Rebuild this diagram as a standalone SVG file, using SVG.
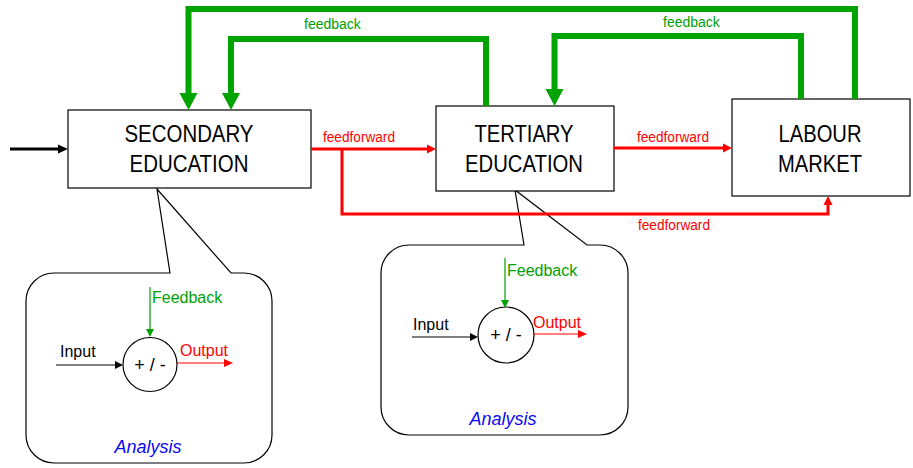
<svg xmlns="http://www.w3.org/2000/svg" width="913" height="468" viewBox="0 0 913 468">
<style>
.box{fill:#fff;stroke:#000;stroke-width:1.2}
.bt{font-family:"Liberation Sans",Arial,sans-serif;font-size:23px;fill:#000;text-anchor:middle}
.fb{fill:none;stroke:#00a400;stroke-width:6}
.fbh{fill:#00a400}
.ff{fill:none;stroke:#f00;stroke-width:3}
.ffh{fill:#f00}
.lab{font-family:"Liberation Sans",Arial,sans-serif;font-size:14px}
.call{fill:#fff;stroke:#000;stroke-width:1.2}
.ct{font-family:"Liberation Sans",Arial,sans-serif;font-size:16px}
.an{font-family:"Liberation Sans",Arial,sans-serif;font-size:18px;font-style:italic;fill:#0a0aee;text-anchor:middle}
.pm{font-family:"Liberation Sans",Arial,sans-serif;font-size:18px;fill:#000;text-anchor:middle}
</style>
<rect width="913" height="468" fill="#fff"/>
<g id="callout-secondary">
<path class="call" d="M170,273 L157,189 L231,273 L244,273 A28,28 0 0 1 272,301 L272,435 A28,28 0 0 1 244,463 L54,463 A28,28 0 0 1 26,435 L26,301 A28,28 0 0 1 54,273 Z"/>
<circle cx="150" cy="364.5" r="27" fill="#fff" stroke="#000" stroke-width="1.2"/>
<text class="pm" x="150" y="371">+ / -</text>
<line x1="150" y1="287" x2="150" y2="329" stroke="#00a000" stroke-width="1.2"/>
<polygon points="146,329 154,329 150,337" fill="#00a000"/>
<text class="ct" x="152" y="303" fill="#00a000">Feedback</text>
<line x1="56" y1="365" x2="116" y2="365" stroke="#000" stroke-width="1.2"/>
<polygon points="115,361 123,365 115,369" fill="#000"/>
<text class="ct" x="60" y="357" fill="#000">Input</text>
<line x1="177" y1="363" x2="225" y2="363" stroke="#f00" stroke-width="1.2"/>
<polygon points="224,359 233,363 224,367" fill="#f00"/>
<text class="ct" x="180" y="356" fill="#f00">Output</text>
<text class="an" x="148" y="453">Analysis</text>
</g>
<g id="callout-tertiary">
<path class="call" d="M524,245 L515,190 L587,245 L600,245 A28,28 0 0 1 628,273 L628,407 A28,28 0 0 1 600,435 L409,435 A28,28 0 0 1 381,407 L381,273 A28,28 0 0 1 409,245 Z"/>
<circle cx="506" cy="335" r="28" fill="#fff" stroke="#000" stroke-width="1.2"/>
<text class="pm" x="506" y="341">+ / -</text>
<line x1="505" y1="258" x2="505" y2="300" stroke="#00a000" stroke-width="1.2"/>
<polygon points="501,300 509,300 505,308" fill="#00a000"/>
<text class="ct" x="507" y="276" fill="#00a000">Feedback</text>
<line x1="412" y1="337" x2="471" y2="337" stroke="#000" stroke-width="1.2"/>
<polygon points="470,333 478,337 470,341" fill="#000"/>
<text class="ct" x="413" y="330" fill="#000">Input</text>
<line x1="534" y1="334" x2="579" y2="334" stroke="#f00" stroke-width="1.2"/>
<polygon points="578,330 587,334 578,338" fill="#f00"/>
<text class="ct" x="533" y="328" fill="#f00">Output</text>
<text class="an" x="503" y="425">Analysis</text>
</g>
<g id="secondary">
<rect class="box" x="68" y="110" width="243" height="78"/>
<text class="bt" x="189" y="142" textLength="129" lengthAdjust="spacingAndGlyphs">SECONDARY</text>
<text class="bt" x="189" y="172" textLength="119" lengthAdjust="spacingAndGlyphs">EDUCATION</text>
</g>
<g id="tertiary">
<rect class="box" x="436" y="106" width="178" height="85"/>
<text class="bt" x="524" y="142" textLength="99" lengthAdjust="spacingAndGlyphs">TERTIARY</text>
<text class="bt" x="524" y="172" textLength="118" lengthAdjust="spacingAndGlyphs">EDUCATION</text>
</g>
<g id="labour">
<rect class="box" x="732" y="99" width="178" height="97"/>
<text class="bt" x="820" y="142" textLength="83" lengthAdjust="spacingAndGlyphs">LABOUR</text>
<text class="bt" x="820" y="172" textLength="84" lengthAdjust="spacingAndGlyphs">MARKET</text>
</g>
<g id="connectors">
<line x1="10" y1="149" x2="60" y2="149" stroke="#000" stroke-width="3"/>
<polygon points="58,144.5 68,149 58,153.5" fill="#000"/>
<path class="fb" d="M855,99 V9 H188.5 V94"/>
<polygon class="fbh" points="179.5,93 197.5,93 188.5,110"/>
<path class="fb" d="M486,106 V39 H231 V94"/>
<polygon class="fbh" points="222,93 240,93 231,110"/>
<path class="fb" d="M801,99 V36 H554.5 V90"/>
<polygon class="fbh" points="545.5,89 563.5,89 554.5,106"/>
<text class="lab" x="304" y="29" fill="#00a000">feedback</text>
<text class="lab" x="663" y="27" fill="#00a000">feedback</text>
<path class="ff" d="M311,149 H428"/>
<polygon class="ffh" points="427,144.5 436,149 427,153.5"/>
<path class="ff" d="M342,149 V214 H828 V204"/>
<polygon class="ffh" points="823.5,205 832.5,205 828,196"/>
<path class="ff" d="M614,148 H724"/>
<polygon class="ffh" points="723,143.5 732,148 723,152.5"/>
<text class="lab" x="323" y="142" fill="#f00" textLength="72" lengthAdjust="spacingAndGlyphs">feedforward</text>
<text class="lab" x="637" y="142" fill="#f00" textLength="72" lengthAdjust="spacingAndGlyphs">feedforward</text>
<text class="lab" x="638" y="230" fill="#f00" textLength="72" lengthAdjust="spacingAndGlyphs">feedforward</text>
</g>
</svg>
